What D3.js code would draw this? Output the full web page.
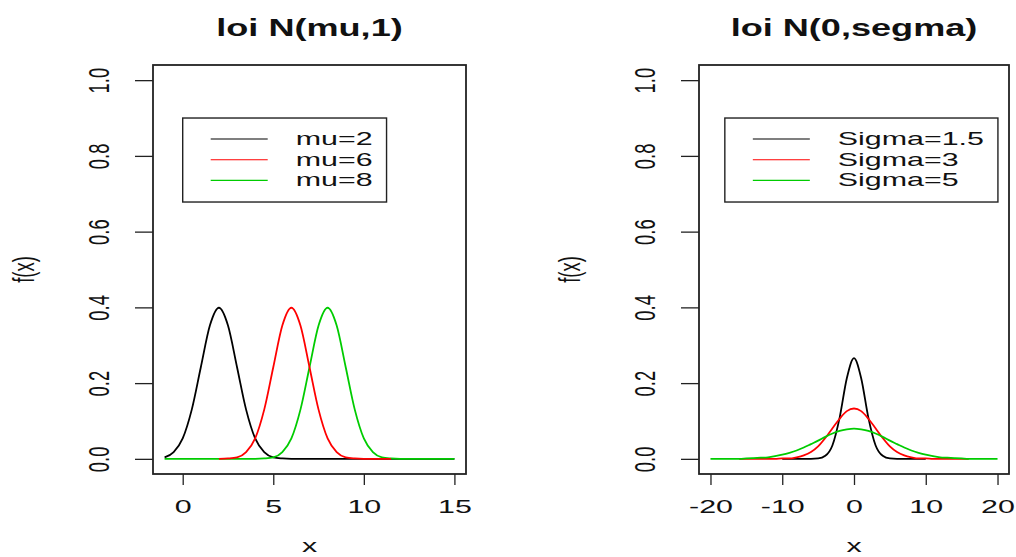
<!DOCTYPE html>
<html>
<head>
  <meta charset="utf-8">
  <title>loi normale</title>
  <style>
  body {
    margin: 0;
    background: #fff;
    font-family: "Liberation Sans", Arial, Helvetica, sans-serif;
  }

  .frame, .legend-box {
    fill: none;
    stroke: #222;
  }

  .frame { stroke-width: 1.8; }
  .legend-box { stroke-width: 1.4; }

  .tick line {
    stroke: #222;
    stroke-width: 1.3;
  }

  .tick text, .lab, .legend text {
    font-size: 16px;
    fill: #111;
  }

  .title {
    font-size: 19px;
    font-weight: bold;
    fill: #111;
  }

  .curve {
    fill: none;
    stroke-width: 1.8;
  }
  </style>
  <script src="https://d3js.org/d3.v7.min.js"></script>
</head>
<body>
<div id="container"></div>
<script>
// ---- data (density values) ----
var yTicks = [0, 0.2, 0.4, 0.6, 0.8, 1.0]

// left panel : loi N(mu,1)
var muTicks = [0, 5, 10, 15]
var muLabels = ["mu=2", "mu=6", "mu=8"]
var muColors = ["black", "red", "#00cc00"]

var xMu2 = [-1, -0.5, 0, 0.5, 1, 1.5, 2, 2.5, 3, 3.5, 4, 4.5, 5, 5.5, 6, 6.5, 7, 7.5, 8, 8.5, 9, 9.5, 10, 10.5, 11, 11.5, 12, 12.5, 13, 13.5, 14, 14.5, 15]
var yMu2 = [0.004, 0.018, 0.054, 0.130, 0.242, 0.352, 0.399, 0.352, 0.242, 0.130, 0.054, 0.018, 0.004, 0.001, 0, 0, 0, 0, 0, 0, 0, 0, 0, 0, 0, 0, 0, 0, 0, 0, 0, 0, 0]

var xMu6 = [2, 2.5, 3, 3.5, 4, 4.5, 5, 5.5, 6, 6.5, 7, 7.5, 8, 8.5, 9, 9.5, 10, 10.5, 11, 11.5]
var yMu6 = [0, 0.001, 0.004, 0.018, 0.054, 0.130, 0.242, 0.352, 0.399, 0.352, 0.242, 0.130, 0.054, 0.018, 0.004, 0.001, 0, 0, 0, 0]

var xMu8 = [-1, -0.5, 0, 0.5, 1, 1.5, 2, 2.5, 3, 3.5, 4, 4.5, 5, 5.5, 6, 6.5, 7, 7.5, 8, 8.5, 9, 9.5, 10, 10.5, 11, 11.5, 12, 12.5, 13, 13.5, 14, 14.5, 15]
var yMu8 = [0, 0, 0, 0, 0, 0, 0, 0, 0, 0, 0, 0.001, 0.004, 0.018, 0.054, 0.130, 0.242, 0.352, 0.399, 0.352, 0.242, 0.130, 0.054, 0.018, 0.004, 0.001, 0, 0, 0, 0, 0, 0, 0]

// right panel : loi N(0,segma)
var sgTicks = [-20, -10, 0, 10, 20]
var sgLabels = ["Sigma=1.5", "Sigma=3", "Sigma=5"]
var sgColors = ["black", "red", "#00cc00"]

var xSg15 = [-10, -9, -8, -7, -6, -5, -4, -3, -2, -1, 0, 1, 2, 3, 4, 5, 6, 7, 8, 9, 10]
var ySg15 = [0, 0, 0, 0, 0, 0.001, 0.008, 0.036, 0.109, 0.213, 0.266, 0.213, 0.109, 0.036, 0.008, 0.001, 0, 0, 0, 0, 0]

var xSg3 = [-16, -15, -14, -13, -12, -11, -10, -9, -8, -7, -6, -5, -4, -3, -2, -1, 0, 1, 2, 3, 4, 5, 6, 7, 8, 9, 10, 11, 12, 13, 14, 15, 16]
var ySg3 = [0, 0, 0, 0, 0, 0, 0.001, 0.001, 0.004, 0.009, 0.018, 0.033, 0.055, 0.081, 0.106, 0.126, 0.133, 0.126, 0.106, 0.081, 0.055, 0.033, 0.018, 0.009, 0.004, 0.001, 0.001, 0, 0, 0, 0, 0, 0]

var xSg5 = [-20, -19, -18, -17, -16, -15, -14, -13, -12, -11, -10, -9, -8, -7, -6, -5, -4, -3, -2, -1, 0, 1, 2, 3, 4, 5, 6, 7, 8, 9, 10, 11, 12, 13, 14, 15, 16, 17, 18, 19, 20]
var ySg5 = [0, 0, 0, 0, 0, 0.001, 0.002, 0.003, 0.004, 0.007, 0.011, 0.016, 0.022, 0.030, 0.039, 0.048, 0.058, 0.067, 0.074, 0.078, 0.080, 0.078, 0.074, 0.067, 0.058, 0.048, 0.039, 0.030, 0.022, 0.016, 0.011, 0.007, 0.004, 0.003, 0.002, 0.001, 0, 0, 0, 0, 0]

function zip(xs, ys) { return xs.map(function(x, i) { return [x, ys[i]] }) }

// ---- layout ----
var W = 1016, H = 557,
    plotTop = 65, plotBottom = 474,
    sx = 1.9, sy = 1.15   // the original picture is stretched sideways

var svg = d3.select("#container").append("svg")
    .attr("width", W)
    .attr("height", H)

svg.append("rect").attr("width", W).attr("height", H).attr("fill", "#fff")

var panels = [
  {
    title: "loi N(mu,1)", left: 153, right: 466,
    xmin: -1, xmax: 15, xticks: muTicks,
    series: [zip(xMu2, yMu2), zip(xMu6, yMu6), zip(xMu8, yMu8)],
    colors: muColors, order: [0, 2, 1],
    legend: { x: 0, y: 0.9, labels: muLabels }
  },
  {
    title: "loi N(0,segma)", left: 699, right: 1009,
    xmin: -20, xmax: 20, xticks: sgTicks,
    series: [zip(xSg15, ySg15), zip(xSg3, ySg3), zip(xSg5, ySg5)],
    colors: sgColors, order: [0, 1, 2],
    legend: { x: -18, y: 0.9, labels: sgLabels }
  }
]

panels.forEach(drawPanel)

function drawPanel(p) {
  // R style 4% padding on each side
  var padX = (p.xmax - p.xmin) * 0.04
  var x = d3.scaleLinear()
    .domain([p.xmin - padX, p.xmax + padX])
    .range([p.left, p.right])
  var y = d3.scaleLinear()
    .domain([-0.04, 1.04])
    .range([plotBottom, plotTop])

  var g = svg.append("g")

  // x axis
  var xax = g.append("g")
    .attr("transform", "translate(0," + plotBottom + ")")
    .call(d3.axisBottom(x).tickValues(p.xticks).tickFormat(function(d) { return String(d) })
      .tickSize(11).tickSizeOuter(0))
  xax.select(".domain").remove()
  xax.selectAll(".tick text")
    .attr("y", null).attr("dy", null)
    .attr("transform", "translate(0,39) scale(" + sx + "," + sy + ")")
    .attr("text-anchor", "middle")
    .attr("fill", "#111")

  // y axis
  var yax = g.append("g")
    .attr("transform", "translate(" + p.left + ",0)")
    .call(d3.axisLeft(y).tickValues(yTicks).tickFormat(d3.format(".1f")).tickSize(18).tickSizeOuter(0))
  yax.select(".domain").remove()
  yax.selectAll(".tick text")
    .attr("x", null).attr("dy", null)
    .attr("transform", "translate(-44,0) scale(" + sx + "," + sy + ") rotate(-90)")
    .attr("text-anchor", "middle")
    .attr("fill", "#111")

  // curves
  var line = d3.line()
    .x(function(d) { return x(d[0]) })
    .y(function(d) { return y(d[1]) })
    .curve(d3.curveMonotoneX)

  p.order.forEach(function(i) {
    g.append("path")
      .attr("class", "curve")
      .attr("d", line(p.series[i]))
      .attr("stroke", p.colors[i])
  })

  // frame
  g.append("rect")
    .attr("class", "frame")
    .attr("x", p.left).attr("y", plotTop)
    .attr("width", p.right - p.left).attr("height", plotBottom - plotTop)

  // titles and axis labels
  var cx = (p.left + p.right) / 2
  g.append("text")
    .attr("class", "title")
    .attr("text-anchor", "middle")
    .attr("transform", "translate(" + cx + ",36) scale(" + sx + ",1.25)")
    .text(p.title)

  g.append("text")
    .attr("class", "lab")
    .attr("text-anchor", "middle")
    .attr("transform", "translate(" + cx + ",552) scale(" + sx + ",1.2)")
    .text("x")

  g.append("text")
    .attr("class", "lab")
    .attr("text-anchor", "middle")
    .attr("transform", "translate(" + (p.left - 119) + "," + ((plotTop + plotBottom) / 2) + ") scale(" + sx + "," + sy + ") rotate(-90)")
    .text("f(x)")

  // legend
  var lx = x(p.legend.x), ly = y(p.legend.y),
      rowH = 20.7
  var leg = g.append("g").attr("class", "legend")
  var box = leg.append("rect").attr("class", "legend-box")
  var maxW = 0
  p.legend.labels.forEach(function(lab, i) {
    var ry = ly + 21 + i * rowH
    leg.append("line")
      .attr("x1", lx + 28).attr("x2", lx + 85)
      .attr("y1", ry).attr("y2", ry)
      .attr("stroke", p.colors[i])
      .attr("stroke-width", 1.1)
    var t = leg.append("text")
      .attr("transform", "translate(" + (lx + 113) + "," + (ry + 6) + ") scale(" + sx + "," + sy + ")")
      .text(lab)
    maxW = Math.max(maxW, t.node().getBBox().width * sx)
  })
  box.attr("x", lx).attr("y", ly)
    .attr("width", 113 + maxW + 14)
    .attr("height", 84)
}
</script>
</body>
</html>
